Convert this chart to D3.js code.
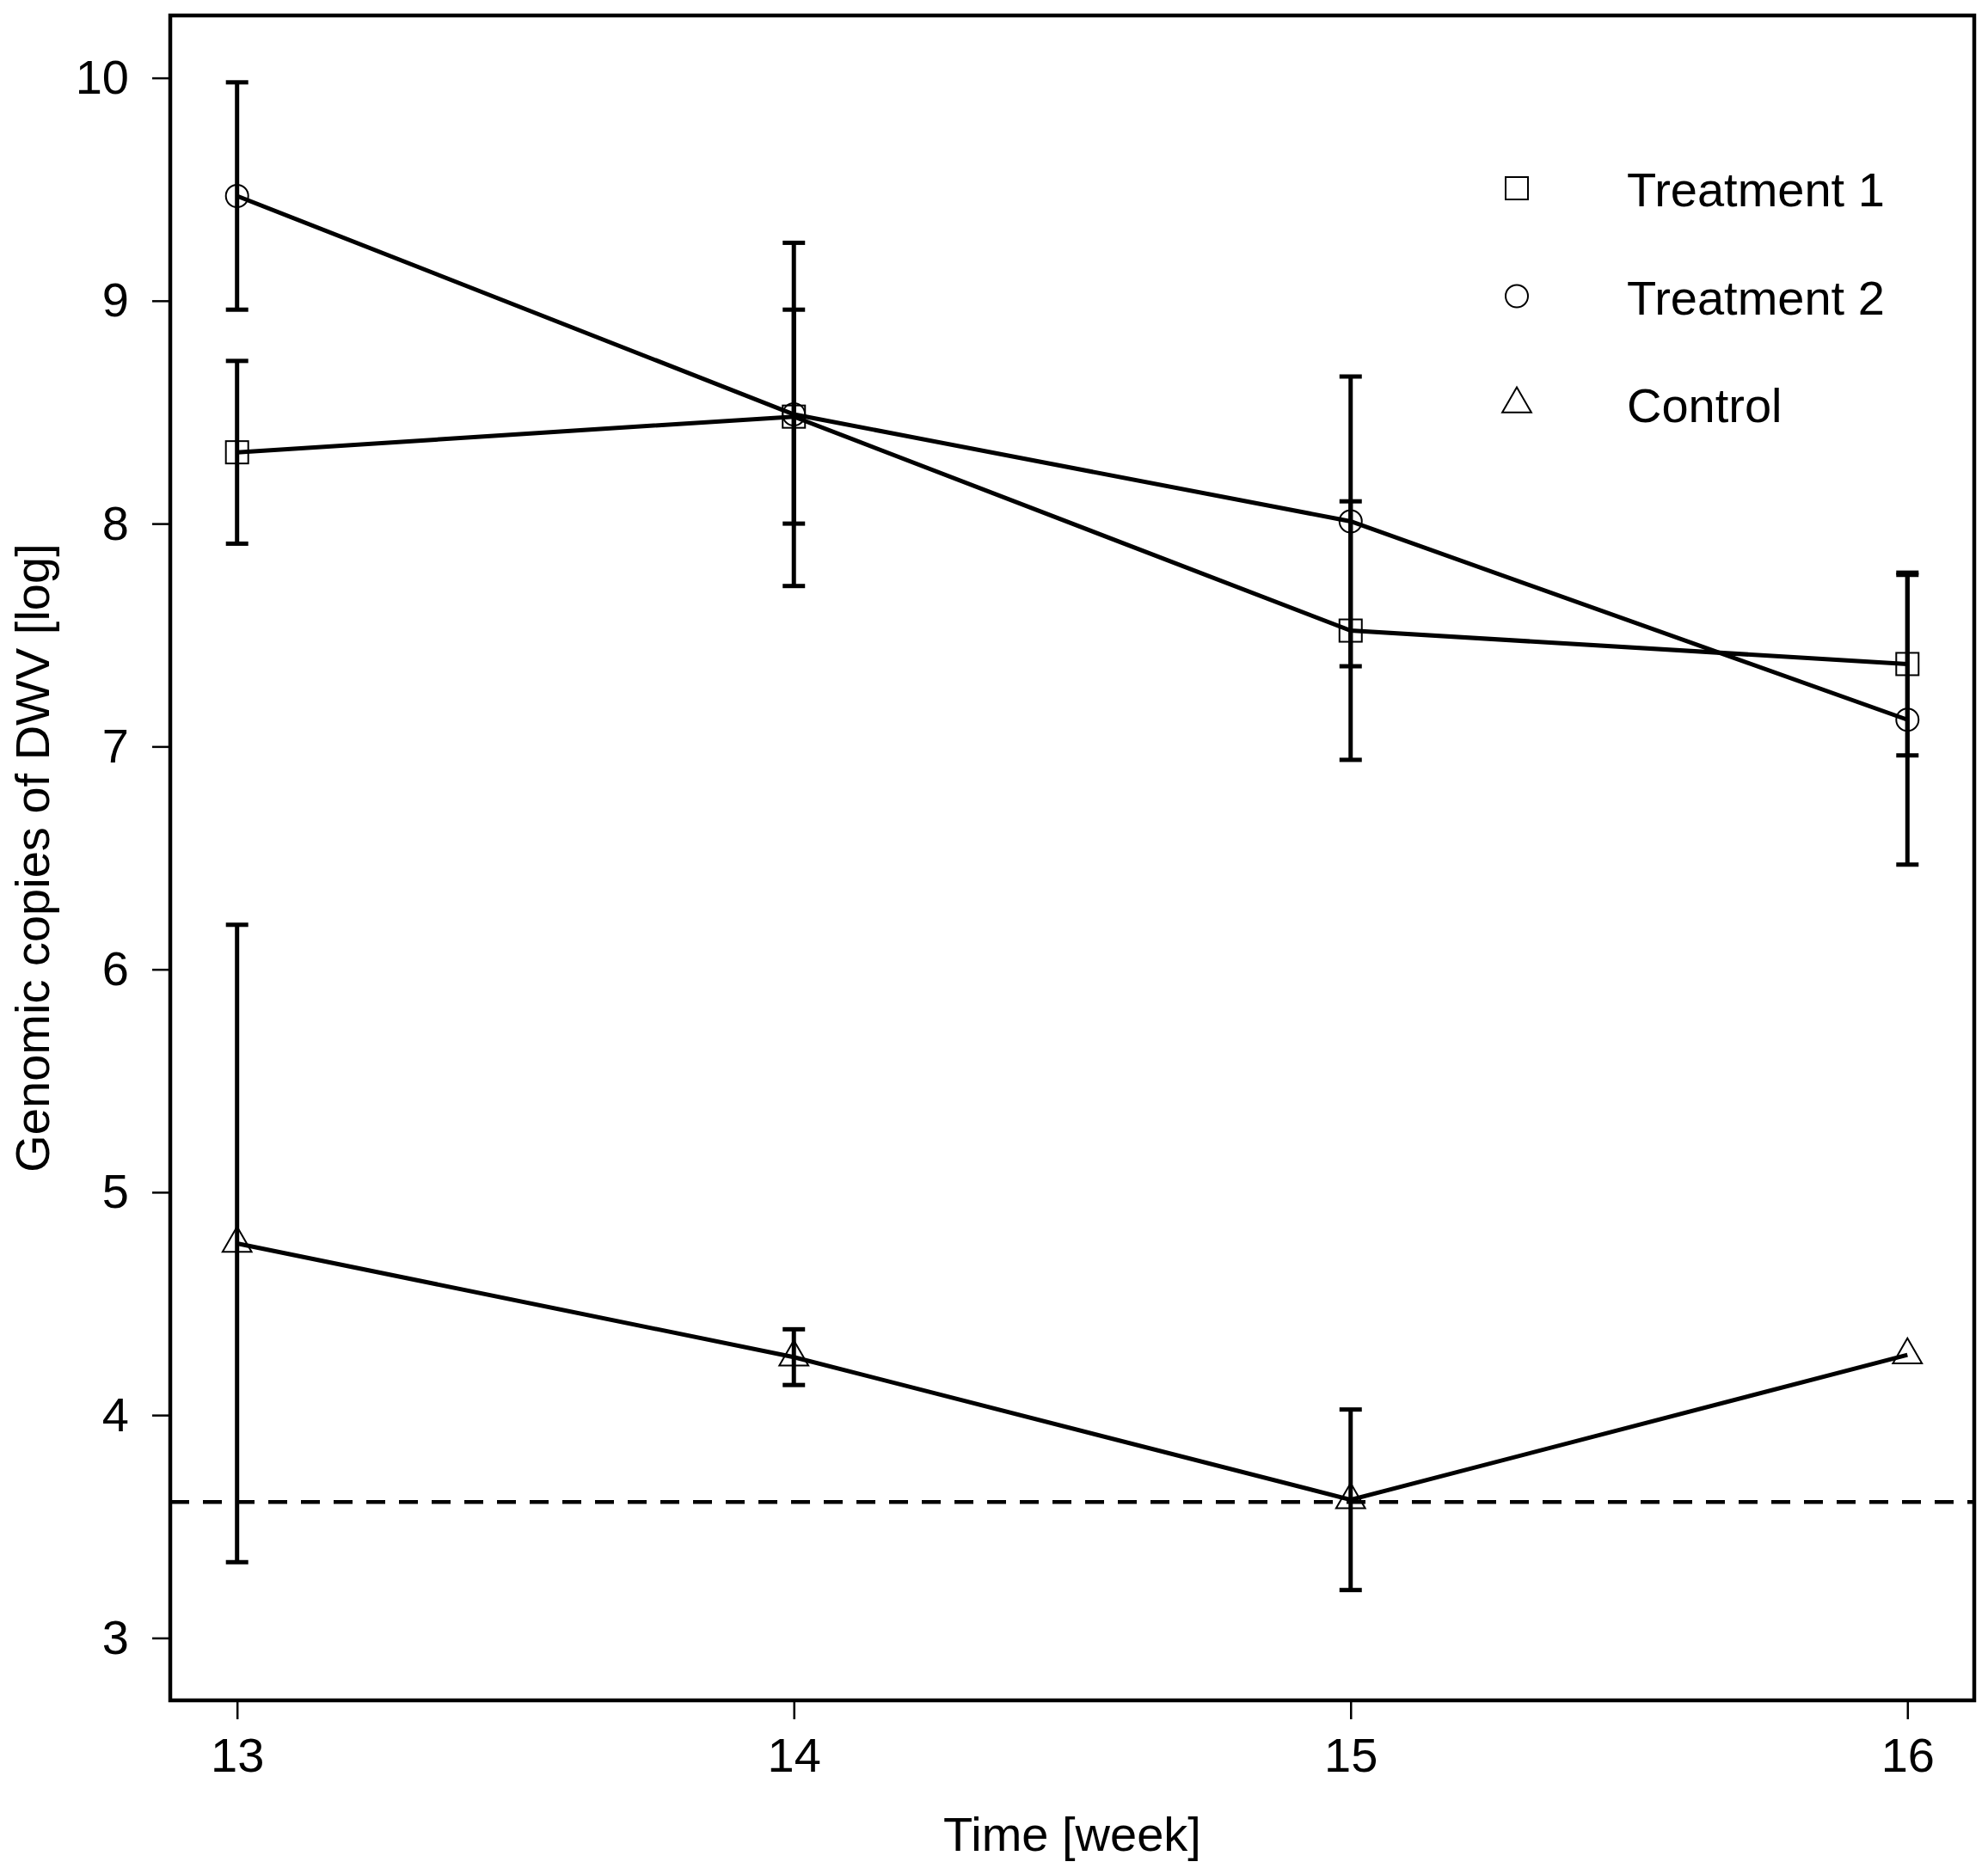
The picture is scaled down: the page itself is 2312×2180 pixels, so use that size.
<!DOCTYPE html>
<html>
<head>
<meta charset="utf-8">
<script src="https://cdn.jsdelivr.net/npm/d3@7"></script>
<style>
  body { margin: 0; background: #fff; }
  text { font-family: "Liberation Sans", Arial, sans-serif; fill: #000; }
</style>
</head>
<body>
<svg id="body" width="2312" height="2180"></svg>
<script>
// values
let weeks = [13, 14, 15, 16];
let treatment1 = [8.32, 8.48, 7.52, 7.37];
let treatment1Err = [0.41, 0.48, 0.58, 0.41];
let treatment2 = [9.47, 8.49, 8.01, 7.12];
let treatment2Err = [0.51, 0.77, 0.65, 0.65];
let control = [4.77, 4.26, 3.62, 4.27];
let controlErr = [1.43, 0.125, 0.405, null];
let detectionLimit = 3.61;
let yTicks = [3, 4, 5, 6, 7, 8, 9, 10];
let legendNames = ['Treatment 1', 'Treatment 2', 'Control'];

let svg = d3.select('#body');

// plot box edges
let plotLeft = 198, plotRight = 2296, plotTop = 18, plotBottom = 1978;

let x = d3.scaleLinear().domain([12.88, 16.12]).range([plotLeft, plotRight]);
let y = d3.scaleLinear().domain([2.72, 10.28]).range([plotBottom, plotTop]);

let series = [
  {name: legendNames[0], shape: 'square', values: treatment1, err: treatment1Err},
  {name: legendNames[1], shape: 'circle', values: treatment2, err: treatment2Err},
  {name: legendNames[2], shape: 'triangle', values: control, err: controlErr}
];

// open symbols like R pch 0, 1, 2
function marker(g, shape, cx, cy){
  if (shape === 'square'){
    g.append('rect')
      .attr('x', cx - 13).attr('y', cy - 13)
      .attr('width', 26).attr('height', 26);
  } else if (shape === 'circle'){
    g.append('circle').attr('cx', cx).attr('cy', cy).attr('r', 13);
  } else {
    let r = 19.5;
    let pts = [[cx, cy - r], [cx + r * Math.sqrt(3) / 2, cy + r / 2], [cx - r * Math.sqrt(3) / 2, cy + r / 2]];
    g.append('polygon').attr('points', pts.map(p => p.join(',')).join(' '));
  }
}

// dashed detection limit
svg.append('line')
  .attr('x1', plotLeft).attr('x2', plotRight)
  .attr('y1', y(detectionLimit)).attr('y2', y(detectionLimit))
  .attr('stroke', 'black')
  .attr('stroke-width', 4.5)
  .attr('stroke-dasharray', '22,16');

let line = d3.line()
  .x((d, i) => x(weeks[i]))
  .y(d => y(d));

series.forEach(s => {
  let g = svg.append('g').attr('class', 'series');

  // error bars
  s.values.forEach((v, i) => {
    let e = s.err[i];
    if (e == null) return;
    let cx = x(weeks[i]);
    g.append('line')
      .attr('x1', cx).attr('x2', cx)
      .attr('y1', y(v + e)).attr('y2', y(v - e))
      .attr('stroke', 'black').attr('stroke-width', 5);
    [v + e, v - e].forEach(c => {
      g.append('line')
        .attr('x1', cx - 13).attr('x2', cx + 13)
        .attr('y1', y(c)).attr('y2', y(c))
        .attr('stroke', 'black').attr('stroke-width', 5);
    });
  });

  g.append('path')
    .datum(s.values)
    .attr('d', line)
    .attr('fill', 'none')
    .attr('stroke', 'black')
    .attr('stroke-width', 5);

  let m = g.append('g').attr('fill', 'none').attr('stroke', 'black').attr('stroke-width', 2);
  s.values.forEach((v, i) => marker(m, s.shape, x(weeks[i]), y(v)));
});

// axes
let xAxis = svg.append('g')
  .attr('transform', `translate(0,${plotBottom})`)
  .call(d3.axisBottom(x).tickValues(weeks).tickFormat(d3.format('d')).tickSize(22).tickPadding(21));

let yAxis = svg.append('g')
  .attr('transform', `translate(${plotLeft},0)`)
  .call(d3.axisLeft(y).tickValues(yTicks).tickFormat(d3.format('d')).tickSize(21).tickPadding(27));

[xAxis, yAxis].forEach(a => {
  a.select('.domain').remove();
  a.selectAll('.tick line').attr('stroke', 'black').attr('stroke-width', 2.5);
  a.selectAll('.tick text')
    .attr('font-family', '"Liberation Sans", Arial, sans-serif')
    .attr('font-size', 56)
    .attr('fill', 'black');
});

// plot box
svg.append('rect')
  .attr('x', plotLeft).attr('y', plotTop)
  .attr('width', plotRight - plotLeft).attr('height', plotBottom - plotTop)
  .attr('fill', 'none')
  .attr('stroke', 'black')
  .attr('stroke-width', 4.5);

// axis titles
svg.append('text')
  .attr('x', (plotLeft + plotRight) / 2)
  .attr('y', 2153)
  .attr('text-anchor', 'middle')
  .attr('font-size', 56)
  .text('Time [week]');

svg.append('text')
  .attr('transform', `translate(57,${(plotTop + plotBottom) / 2}) rotate(-90)`)
  .attr('text-anchor', 'middle')
  .attr('font-size', 56)
  .text('Genomic copies of DWV [log]');

// legend
let legend = svg.append('g').attr('class', 'legend');
series.forEach((s, i) => {
  let cy = 219 + i * 125.5;
  let m = legend.append('g').attr('fill', 'none').attr('stroke', 'black').attr('stroke-width', 2);
  marker(m, s.shape, 1764, cy);
  legend.append('text')
    .attr('x', 1892)
    .attr('y', cy + 21)
    .attr('font-size', 56)
    .text(s.name);
});
</script>
</body>
</html>
